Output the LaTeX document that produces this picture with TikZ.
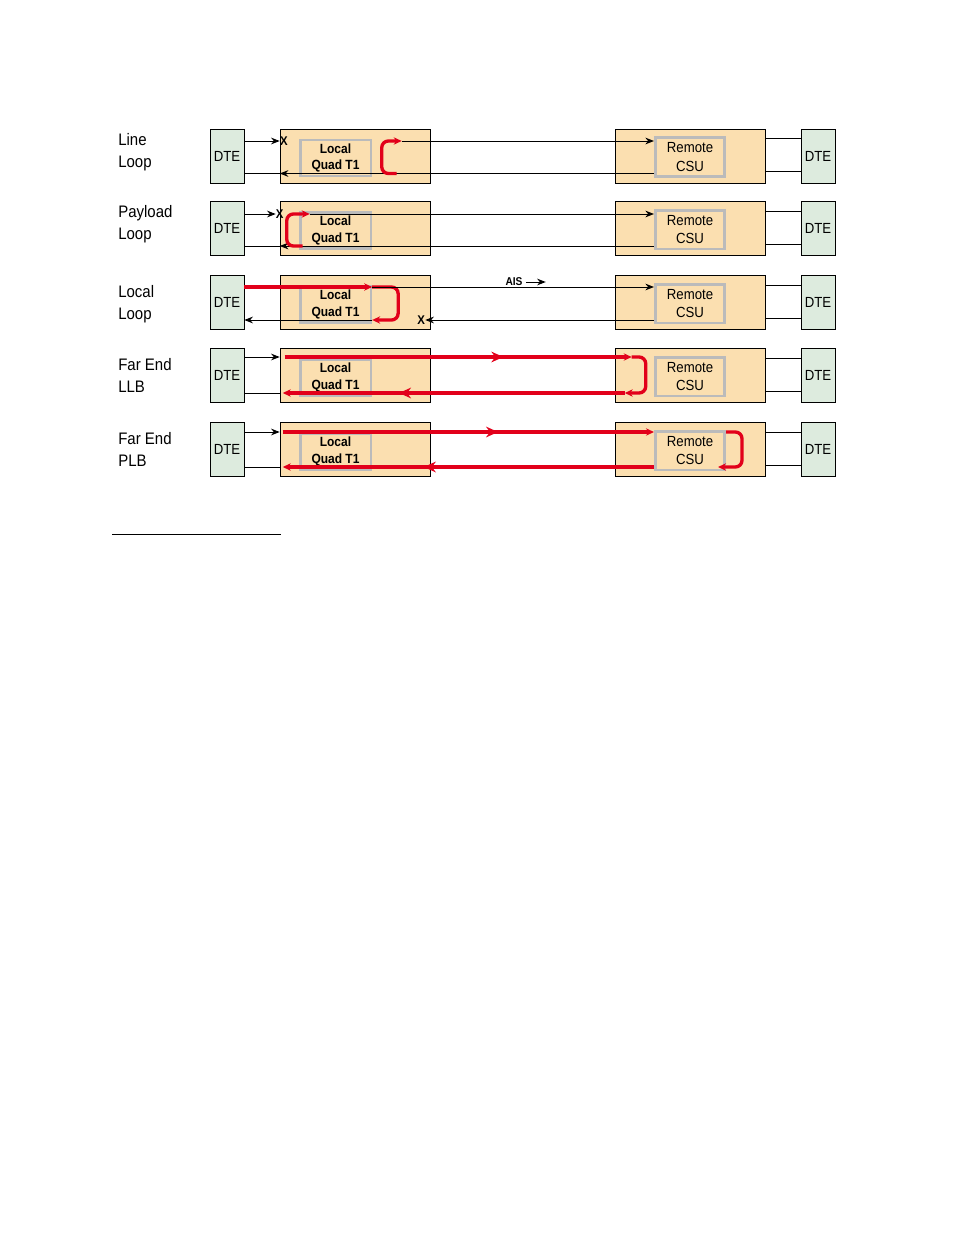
\documentclass[tikz,border=0pt]{standalone}
\usepackage{fontspec}
\setmainfont{Liberation Sans}[FakeStretch=0.9]
\usetikzlibrary{arrows.meta,decorations.markings}
\definecolor{peach}{RGB}{251,223,176}
\definecolor{dtegreen}{RGB}{221,235,222}
\definecolor{sigred}{RGB}{226,0,26}
\definecolor{boxgray}{RGB}{187,187,187}

\tikzset{
  dte/.style={draw, fill=dtegreen, minimum width=25.5pt, minimum height=40.5pt, inner sep=0pt, font=\fontsize{11}{12}\selectfont},
  unit/.style={draw, fill=peach, minimum width=112.5pt, minimum height=40.5pt, inner sep=0pt},
  quad/.style={draw=boxgray, line width=2pt, minimum width=53pt, minimum height=27pt, inner sep=0pt, align=center, font=\bfseries\fontsize{10}{12.5}\selectfont},
  csu/.style={draw=boxgray, line width=2pt, minimum width=52pt, minimum height=29pt, inner sep=0pt, align=center, font=\fontsize{11}{14}\selectfont},
  wire/.style={line width=0.75pt},
  warr/.style={wire, -{Stealth[length=6.5pt,width=5pt]}},
  sarr/.style={draw=sigred, line width=2.5pt, -{Stealth[length=6pt,width=5.5pt]}},
  midarrow/.style={postaction={decorate, decoration={markings, mark=at position #1 with {\arrow{Stealth[length=9pt,width=8pt]}}}}},
  xmark/.style={font=\bfseries\fontsize{9.5}{9.5}\selectfont, inner sep=0pt},
}

\begin{document}
\begin{tikzpicture}[x=0.75pt, y=-0.75pt]
\useasboundingbox (0,0) rectangle (954,1235);

% the five test set-ups
\foreach \r/\y/\ly/\dt/\lab in {1/156/152/15/{Line\\Loop}, 2/228.5/224.5/14.5/{Payload\\Loop},
    3/302.5/304/15.5/{Local\\Loop}, 4/375.5/375/18.5/{Far End\\LLB}, 5/449.5/449/17.5/{Far End\\PLB}}{
  \node[anchor=west, align=left, inner sep=0pt, font=\fontsize{12.5}{16.5}\selectfont] (lab\r) at (118,\ly) {\lab};
  \node[dte] (dteL\r) at (227,\y) {DTE};
  \node[unit] (loc\r) at (355,\y) {};
  \node[quad] (locq\r) at (335.5,\y+2) {Local\\Quad T1};
  \node[unit] (rem\r) at (690,\y) {};
  \node[csu] (csu\r) at (690,\y+1) {Remote\\CSU};
  \node[dte] (dteR\r) at (818,\y) {DTE};
  \coordinate (t\r) at (0,\y-\dt);
  \coordinate (b\r) at (0,\y+17.5);
  \coordinate (rt\r) at (0,\y-17.5);
  \coordinate (rb\r) at (0,\y+15.5);
  \draw[wire] (rem\r.east |- rt\r) -- (dteR\r.west |- rt\r);
  \draw[wire] (rem\r.east |- rb\r) -- (dteR\r.west |- rb\r);
}

% Line Loop
\draw[warr] (dteL1.east |- t1) -- (loc1.west |- t1);
\node[xmark, anchor=west] (x1) at (loc1.west |- t1) {X};
\draw[wire] (dteL1.east |- b1) -- (loc1.west |- b1);
\draw[warr] (csu1.west |- b1) -- (loc1.west |- b1);
\draw[sarr, rounded corners=5pt] (loc1.west |- b1) ++(117,0) -| ++(-15,-32.5) -- ++(20,0);
\draw[warr] (loc1.west |- t1) ++(122,0) -- (csu1.west |- t1);

% Payload Loop
\draw[warr] (dteL2.east |- t2) -- ([xshift=-3pt]loc2.west |- t2);
\node[xmark] (x2) at (loc2.west |- t2) {X};
\draw[wire] (dteL2.east |- b2) -- (loc2.west |- b2);
\draw[warr] (csu2.west |- b2) -- (loc2.west |- b2);
\draw[sarr, rounded corners=5pt] (loc2.west |- b2) ++(23,0) -| ++(-16,-32) -- ++(23,0);
\draw[warr] (loc2.west |- t2) ++(30,0) -- (csu2.west |- t2);

% Local Loop
\draw[sarr] (dteL3.east |- t3) -- (locq3.east |- t3);
\draw[sarr, rounded corners=5pt] (locq3.east |- t3) -- ++(26,0) |- (locq3.east |- b3);
\draw[warr] (locq3.east |- t3) -- (csu3.west |- t3);
\node[font=\bfseries\fontsize{8.5}{8.5}\selectfont, inner sep=0pt] (ais) at (514,282) {AIS};
\draw[warr] (ais.east) ++(3,0) -- ++(20,0);
\draw[warr] (csu3.west |- b3) -- ([xshift=-3.75pt]loc3.east |- b3);
\node[xmark, anchor=east] (x3) at ([xshift=-3.75pt]loc3.east |- b3) {X};
\draw[warr] (locq3.east |- b3) -- (dteL3.east |- b3);

% Far End LLB
\draw[warr] (dteL4.east |- t4) -- (loc4.west |- t4);
\draw[wire] (dteL4.east |- b4) -- (loc4.west |- b4);
\draw[sarr, midarrow=0.63] ([xshift=3.75pt]loc4.west |- t4) -- ([xshift=12.75pt]rem4.west |- t4);
\draw[sarr, rounded corners=5pt] ([xshift=12.75pt]rem4.west |- t4) -- ++(14,0) |- ([xshift=7.5pt]rem4.west |- b4);
\draw[sarr, midarrow=0.66] ([xshift=7.5pt]rem4.west |- b4) -- ([xshift=2.25pt]loc4.west |- b4);

% Far End PLB
\draw[warr] (dteL5.east |- t5) -- (loc5.west |- t5);
\draw[wire] (dteL5.east |- b5) -- (loc5.west |- b5);
\draw[sarr, midarrow=0.58] ([xshift=2.25pt]loc5.west |- t5) -- (csu5.west |- t5);
\draw[sarr, rounded corners=5pt] (csu5.east |- t5) -- ++(16,0) |- ([xshift=-6pt]csu5.east |- b5);
\draw[sarr, midarrow=0.62] (csu5.west |- b5) -- ([xshift=2.25pt]loc5.west |- b5);

\draw[wire] (112,534) -- (281,534);
\end{tikzpicture}
\end{document}
